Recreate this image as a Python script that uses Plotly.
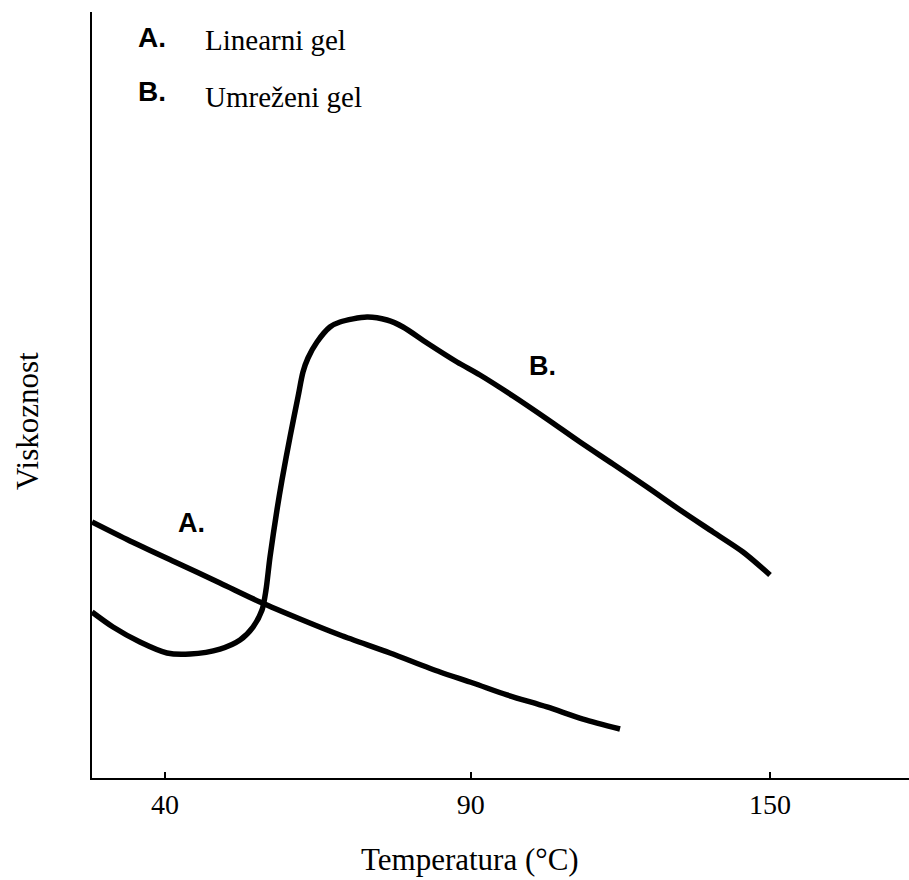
import plotly.graph_objects as go

# Temperature (°C, schematic scale) and viscosity (arbitrary units)
temp_a = [26.73, 33.64, 41.82, 50.0, 57.27, 64.55, 71.82, 80.91, 90.0, 96.0,
          102.18, 109.45, 116.0, 122.73]
visc_a = [33.42, 30.94, 28.20, 25.46, 22.98, 20.76, 18.67, 16.32, 13.84, 12.40,
          10.84, 9.27, 7.70, 6.40]

temp_b = [26.73, 30.55, 35.45, 40.36, 44.55, 50.0, 53.64, 56.0, 57.64, 58.36,
          59.09, 60.36, 61.27, 62.73, 64.18, 65.09, 66.0, 67.64, 70.0, 71.82,
          76.73, 80.36, 83.27, 87.64, 93.09, 97.27, 103.27, 109.45, 115.45,
          121.45, 127.64, 133.64, 139.64, 145.09, 150.0]
visc_b = [21.67, 19.71, 17.75, 16.32, 16.19, 16.84, 18.02, 19.71, 21.93, 24.54,
          28.85, 34.99, 38.90, 44.52, 49.74, 53.0, 54.83, 56.92, 58.88, 59.53,
          60.18, 59.79, 58.88, 56.79, 54.31, 52.61, 49.87, 46.87, 43.86,
          40.99, 37.99, 34.99, 32.11, 29.50, 26.50]

tick_vals = [40, 95.6, 150]
tick_text = ["40", "90", "150"]

legend_keys = ["A.", "B."]
legend_names = ["Linearni gel", "Umreženi gel"]

SERIF = "Liberation Serif, Times New Roman, serif"
SANS = "Liberation Sans, Arial, sans-serif"

fig = go.Figure()
fig.add_trace(go.Scatter(x=temp_a, y=visc_a, mode="lines", name=legend_names[0],
                         line=dict(color="black", width=5.5, shape="spline", smoothing=0.8)))
fig.add_trace(go.Scatter(x=temp_b, y=visc_b, mode="lines", name=legend_names[1],
                         line=dict(color="black", width=5.5, shape="spline", smoothing=0.8)))

annotations = []
# legend text block
for i, (k, n) in enumerate(zip(legend_keys, legend_names)):
    yk = [96.7, 89.6][i]
    yn = [96.3, 88.9][i]
    annotations.append(dict(x=37.6, y=yk, text=f"<b>{k}</b>", showarrow=False,
                            xanchor="center", yanchor="middle",
                            font=dict(family=SANS, size=28, color="black")))
    annotations.append(dict(x=46.9, y=yn, text=n, showarrow=False,
                            xanchor="left", yanchor="middle",
                            font=dict(family=SERIF, size=29, color="black")))
# curve labels
annotations.append(dict(x=44.9, y=33.3, text="<b>A.</b>", showarrow=False,
                        xanchor="center", yanchor="middle",
                        font=dict(family=SANS, size=27, color="black")))
annotations.append(dict(x=108.7, y=53.8, text="<b>B.</b>", showarrow=False,
                        xanchor="center", yanchor="middle",
                        font=dict(family=SANS, size=27, color="black")))
# axis titles
annotations.append(dict(xref="paper", yref="paper", x=-0.0796, y=0.466,
                        xanchor="center", yanchor="middle",
                        text="Viskoznost", textangle=-90, showarrow=False,
                        font=dict(family=SERIF, size=31, color="black")))
annotations.append(dict(xref="paper", yref="paper", x=0.4627, y=-0.107,
                        xanchor="center", yanchor="middle",
                        text="Temperatura (°C)", showarrow=False,
                        font=dict(family=SERIF, size=31, color="black")))

fig.update_layout(
    width=909, height=880,
    margin=dict(l=92, r=0, t=12, b=102),
    plot_bgcolor="white", paper_bgcolor="white",
    showlegend=False,
    annotations=annotations,
    xaxis=dict(range=[26.73, 175.27], showgrid=False, zeroline=False,
               showline=True, linecolor="black", linewidth=2,
               tickvals=tick_vals, ticktext=tick_text,
               ticks="inside", ticklen=6, tickwidth=2, tickcolor="black",
               ticklabelstandoff=0,
               tickfont=dict(family=SERIF, size=28, color="black")),
    yaxis=dict(range=[0, 100], showgrid=False, zeroline=False,
               showline=True, linecolor="black", linewidth=2,
               showticklabels=False, ticks=""),
)

fig.write_html(
    "out.html",
    config={"displayModeBar": False},
    post_script="document.body.style.margin='0px';document.body.style.overflow='hidden';",
)
